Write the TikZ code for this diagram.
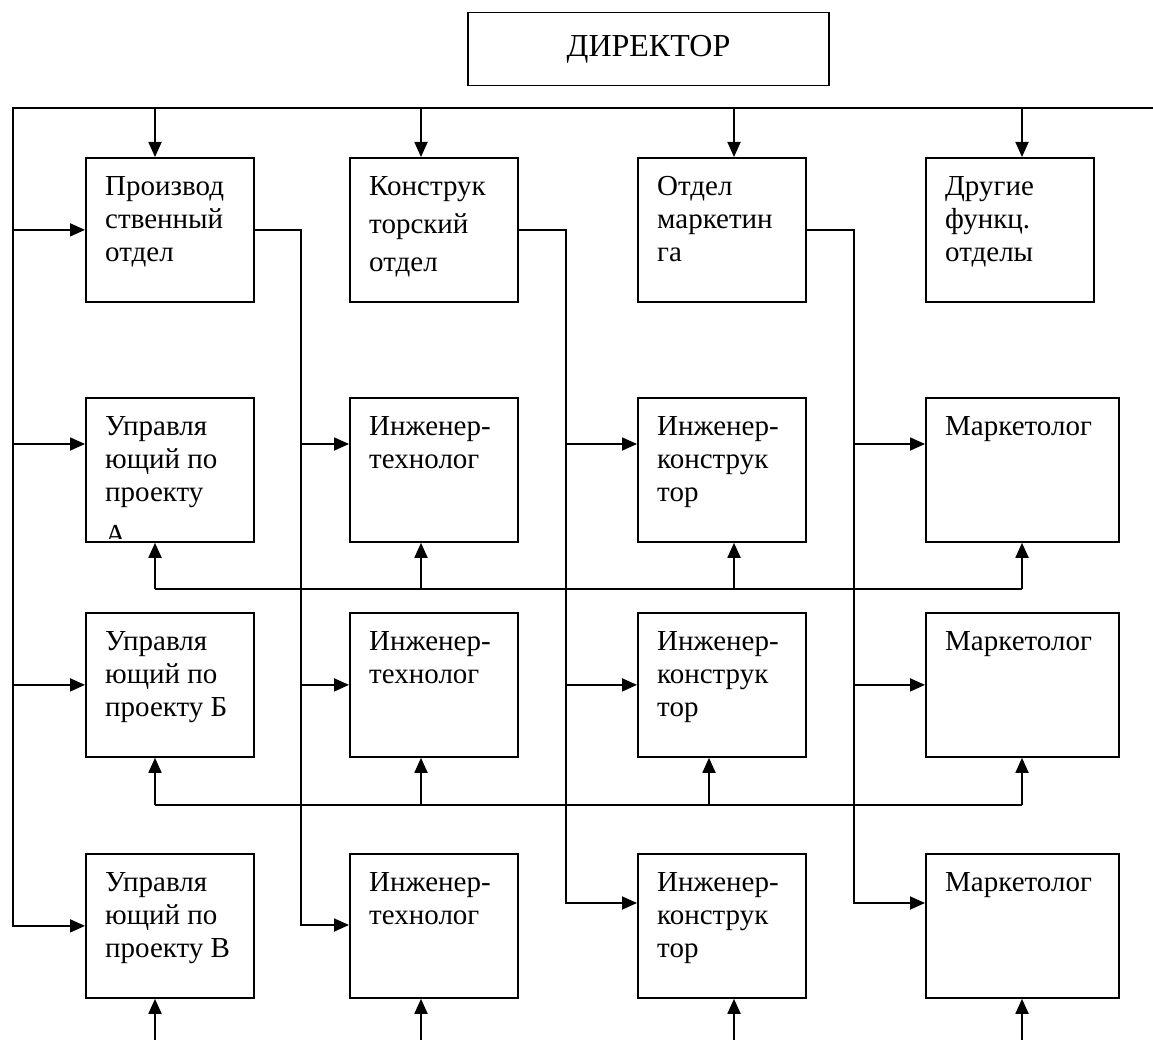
\documentclass[tikz,border=0pt]{standalone}
\usepackage{fontspec}
\setmainfont{Liberation Serif}
\usetikzlibrary{arrows.meta}
\begin{document}
\begin{tikzpicture}[x=1pt,y=-1pt,
  box/.style={draw, line width=1.8pt, inner sep=0pt, anchor=north west, minimum width=168pt, minimum height=144pt},
  wbox/.style={box, minimum width=193pt},
  tbase/.style={anchor=north west, inner sep=0pt, align=left, xshift=20pt},
  txt/.style={tbase, font=\fontsize{29}{33}\selectfont, yshift=-14.9pt},
  wtxt/.style={tbase, font=\fontsize{29}{38}\selectfont, yshift=-11.4pt},
  ln/.style={line width=1.8pt},
  arr/.style={line width=1.8pt, -{Triangle[length=15pt,width=13pt]}}]
\useasboundingbox (0,0) rectangle (1153,1040);

% director
\node[draw, line width=1.8pt, minimum width=361pt, minimum height=73pt, inner sep=0pt,
      font=\fontsize{32}{36}\selectfont] (dir) at (648.5,49) {ДИРЕКТОР};

% row 1
\node[box] (p1) at (85,157) {};
\node[box] (k1) at (349,157) {};
\node[box] (m1) at (637,157) {};
\node[box] (d1) at (925,157) {};
\node[txt] (p1t) at (p1.north west) {\strut Производ\\ственный\\отдел};
\node[wtxt] (k1t) at (k1.north west) {\strut Конструк\\торский\\отдел};
\node[txt] (m1t) at (m1.north west) {\strut Отдел\\маркетин\\га};
\node[txt] (d1t) at (d1.north west) {\strut Другие\\функц.\\отделы};

% rows 2-4
\node[box] (u2) at (85,397) {};
\node[box] (t2) at (349,397) {};
\node[box] (e2) at (637,397) {};
\node[wbox] (mk2) at (925,397) {};
\node[box] (u3) at (85,612) {};
\node[box] (t3) at (349,612) {};
\node[box] (e3) at (637,612) {};
\node[wbox] (mk3) at (925,612) {};
\node[box] (u4) at (85,853) {};
\node[box] (t4) at (349,853) {};
\node[box] (e4) at (637,853) {};
\node[wbox] (mk4) at (925,853) {};

\node[txt] (u2t) at (u2.north west) {\strut Управля\\ющий по\\проекту};
\begin{scope}
  \clip (95,518) rectangle (160,538);
  \node[anchor=base west, inner sep=0pt, font=\fontsize{29}{33}\selectfont] (u2a) at (105,544) {А};
\end{scope}
\node[txt] (t2t) at (t2.north west) {\strut Инженер-\\технолог};
\node[txt] (e2t) at (e2.north west) {\strut Инженер-\\конструк\\тор};
\node[txt] (mk2t) at (mk2.north west) {\strut Маркетолог};
\node[txt] (u3t) at (u3.north west) {\strut Управля\\ющий по\\проекту Б};
\node[txt] (t3t) at (t3.north west) {\strut Инженер-\\технолог};
\node[txt] (e3t) at (e3.north west) {\strut Инженер-\\конструк\\тор};
\node[txt] (mk3t) at (mk3.north west) {\strut Маркетолог};
\node[txt] (u4t) at (u4.north west) {\strut Управля\\ющий по\\проекту В};
\node[txt] (t4t) at (t4.north west) {\strut Инженер-\\технолог};
\node[txt] (e4t) at (e4.north west) {\strut Инженер-\\конструк\\тор};
\node[txt] (mk4t) at (mk4.north west) {\strut Маркетолог};

% helper coordinates
\coordinate (busL) at (13,108);
\coordinate (busR) at (1153,108);
\coordinate (x1) at (155,0);
\coordinate (x2) at (421,0);
\coordinate (x3) at (734,0);
\coordinate (x3b) at (709,0);
\coordinate (x4) at (1022,0);
\coordinate (h2) at (0,444);
\coordinate (v1) at (301,925);
\coordinate (v2) at (566,903);
\coordinate (v3) at (854,903);
\coordinate (f2) at (0,589);
\coordinate (f3) at (0,805);
\coordinate (bot) at (0,1040);

% top bus and left bus
\draw[arr] (busR) -- (busL) |- (u4.west);
\draw[arr] (x1 |- busL) -- (x1 |- p1.north);
\draw[arr] (x2 |- busL) -- (x2 |- k1.north);
\draw[arr] (x3 |- busL) -- (x3 |- m1.north);
\draw[arr] (x4 |- busL) -- (x4 |- d1.north);
\draw[arr] (p1.west -| busL) -- (p1.west);
\draw[arr] (h2 -| busL) -- (h2 -| u2.west);
\draw[arr] (u3.west -| busL) -- (u3.west);

% department lines
\draw[arr] (p1.east) -| (v1) -- (v1 -| t4.west);
\draw[arr] (h2 -| v1) -- (h2 -| t2.west);
\draw[arr] (t3.west -| v1) -- (t3.west);

\draw[arr] (k1.east) -| (v2) -- (v2 -| e4.west);
\draw[arr] (h2 -| v2) -- (h2 -| e2.west);
\draw[arr] (e3.west -| v2) -- (e3.west);

\draw[arr] (m1.east) -| (v3) -- (v3 -| mk4.west);
\draw[arr] (h2 -| v3) -- (h2 -| mk2.west);
\draw[arr] (mk3.west -| v3) -- (mk3.west);

% project lines (row 2)
\draw[ln] (x1 |- f2) -- (x4 |- f2);
\draw[arr] (x1 |- f2) -- (x1 |- u2.south);
\draw[arr] (x2 |- f2) -- (x2 |- t2.south);
\draw[arr] (x3 |- f2) -- (x3 |- e2.south);
\draw[arr] (x4 |- f2) -- (x4 |- mk2.south);

% project lines (row 3)
\draw[ln] (x1 |- f3) -- (x4 |- f3);
\draw[arr] (x1 |- f3) -- (x1 |- u3.south);
\draw[arr] (x2 |- f3) -- (x2 |- t3.south);
\draw[arr] (x3b |- f3) -- (x3b |- e3.south);
\draw[arr] (x4 |- f3) -- (x4 |- mk3.south);

% project lines (row 4)
\draw[arr] (x1 |- bot) -- (x1 |- u4.south);
\draw[arr] (x2 |- bot) -- (x2 |- t4.south);
\draw[arr] (x3 |- bot) -- (x3 |- e4.south);
\draw[arr] (x4 |- bot) -- (x4 |- mk4.south);
\end{tikzpicture}
\end{document}
